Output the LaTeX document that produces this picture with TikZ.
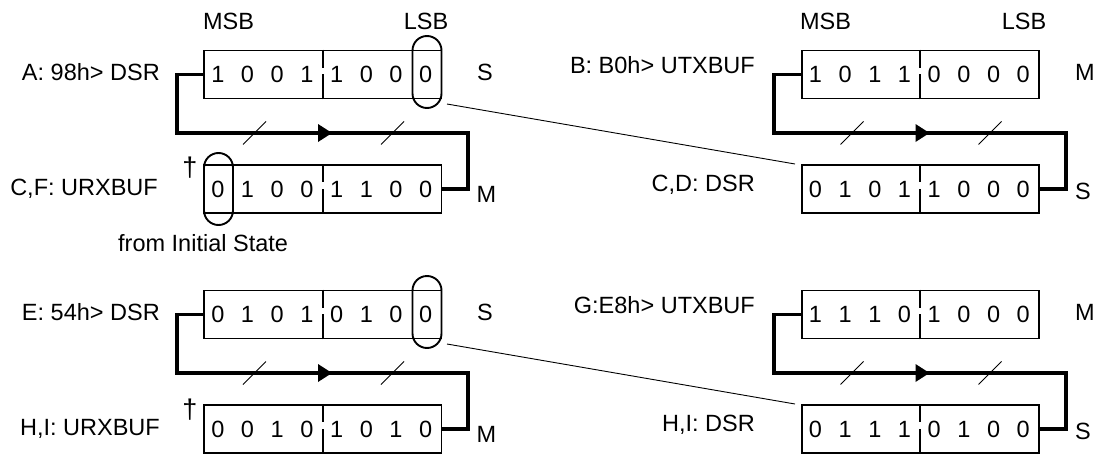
\documentclass[tikz,border=0pt]{standalone}
\usepackage{fontspec}
\setmainfont{Liberation Sans}
\usetikzlibrary{calc}
\tikzset{
  every node/.style={font=\fontsize{23.5}{28}\selectfont, inner sep=0pt},
  regbox/.style={draw, line width=1.9pt, minimum width=237.5pt, minimum height=48pt},
  digit/.style={anchor=center},
  divline/.style={line width=1.9pt},
  oval/.style={draw, line width=1.9pt, minimum width=29pt, minimum height=72pt, rounded corners=14.5pt},
  conn/.style={line width=3.8pt},
  slash/.style={line width=0.9pt},
  thinl/.style={line width=0.9pt},
  lbl/.style={anchor=base east},
  side/.style={anchor=base},
}
\newcommand{\myreg}[4]{%
  \node[regbox] (#1) at (#2,#3) {};
  \foreach \d [count=\i from 0] in {#4} {
    \node[digit] (#1-\i) at ($(#1.west)+({(\i+0.5)*29.6875},0)$) {\d};
  }
  \draw[divline] (#1.north) -- ++(0,18) (#1.south) -- ++(0,-25);
}
\newcommand{\mylink}[5]{%
  \coordinate (#1-l) at (#3,#5);
  \coordinate (#1-r) at (#4,#5);
  \coordinate (#1-c) at ($(#1-l)!0.5!(#1-r)$);
  \coordinate (#1-m) at ($(#1-c)+(9.5,0)$);
  \draw[conn] (#1.west) -| (#1-l) -- (#1-r) |- (#2.east);
  \fill (#1-m) -- ++(-14,-9) -- ++(0,18) -- cycle;
  \draw[slash] ($(#1-c)+(-79.5,11.5)$) -- ++(23,-23);
  \draw[slash] ($(#1-c)+(58.5,11.5)$) -- ++(23,-23);
}
\begin{document}
\begin{tikzpicture}[x=1pt,y=-1pt]
\useasboundingbox (0,0) rectangle (1098,455);

% registers
\myreg{A}{322.7}{74.5}{1,0,0,1,1,0,0,0}
\myreg{C}{322.7}{189}{0,1,0,0,1,1,0,0}
\myreg{E}{322.7}{314.5}{0,1,0,1,0,1,0,0}
\myreg{H}{322.7}{429}{0,0,1,0,1,0,1,0}
\myreg{B}{920.3}{74.5}{1,0,1,1,0,0,0,0}
\myreg{D}{920.3}{189}{0,1,0,1,1,0,0,0}
\myreg{G}{920.3}{314.5}{1,1,1,0,1,0,0,0}
\myreg{I}{920.3}{429}{0,1,1,1,0,1,0,0}

% links
\mylink{A}{C}{177}{468}{133}
\mylink{E}{H}{177}{468}{373}
\mylink{B}{D}{774}{1066}{133}
\mylink{G}{I}{774}{1066}{373}

% ovals
\node[oval] (ovA) at (427,72) {};
\node[oval] (ovC) at (218.5,189) {};
\node[oval] (ovE) at (427,312) {};

% thin lines
\coordinate (tA) at (447,104);
\coordinate (tD) at (795,164);
\coordinate (tE) at (447,344);
\coordinate (tI) at (795,404);
\draw[thinl] (tA) -- (tD);
\draw[thinl] (tE) -- (tI);

% labels left
\node[lbl] (la) at (160,80.4) {A: 98h> DSR};
\node[lbl] (lc) at (158,195.5) {C,F: URXBUF};
\node[lbl] (le) at (160,320.4) {E: 54h> DSR};
\node[lbl] (lh) at (160,435.5) {H,I: URXBUF};
\node[anchor=base west] (lfrom) at (118,251.4) {from Initial State};
\node[font=\fontsize{27}{30}\selectfont] (dag1) at (190,168) {\textdagger};
\node[font=\fontsize{27}{30}\selectfont] (dag2) at (190,410) {\textdagger};
\node[side] (msb1) at (228.5,29.4) {MSB};
\node[side] (lsb1) at (426,29.4) {LSB};
\node[side] (s1) at (485,80.4) {S};
\node[side] (m1) at (486.5,202) {M};
\node[side] (s2) at (485,320.4) {S};
\node[side] (m2) at (486.5,442) {M};

% labels right
\node[lbl] (lb) at (755,73.7) {B: B0h> UTXBUF};
\node[lbl] (ld) at (755,191) {C,D: DSR};
\node[lbl] (lg) at (755,313.7) {G:E8h> UTXBUF};
\node[lbl] (li) at (755,431) {H,I: DSR};
\node[side] (msb2) at (825.5,29.4) {MSB};
\node[side] (lsb2) at (1024,29.4) {LSB};
\node[side] (m3) at (1085,80.4) {M};
\node[side] (s3) at (1083,199.4) {S};
\node[side] (m4) at (1085,320.4) {M};
\node[side] (s4) at (1083,439.4) {S};
\end{tikzpicture}
\end{document}
